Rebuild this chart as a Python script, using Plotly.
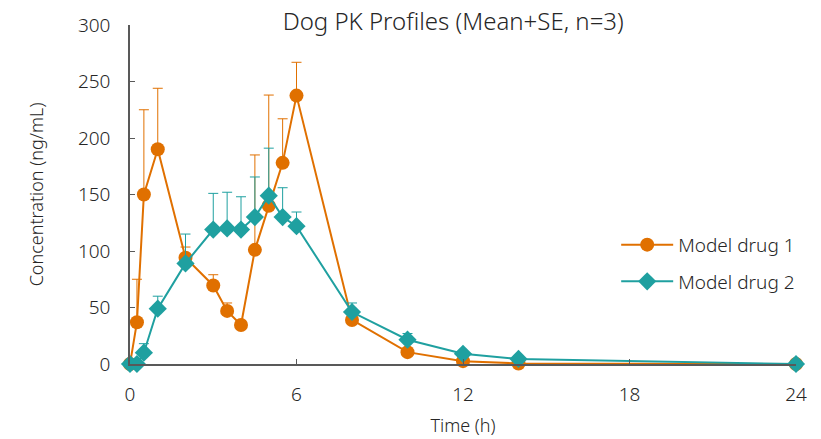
import plotly.graph_objects as go

time_h = [0, 0.25, 0.5, 1, 2, 3, 3.5, 4, 4.5, 5, 5.5, 6, 8, 10, 12, 14, 24]
drug1_mean = [0, 37, 150, 190, 94, 69.5, 47, 34.5, 101, 140, 178, 237.5, 39, 10.5, 2.5, 0.5, 0]
drug1_se = [0, 38, 75, 54, 9.5, 9.5, 7, 3, 84, 98, 39, 29.5, 2, 1, 0.5, 0, 0]
drug2_mean = [0, 0, 10, 49, 89, 119, 120, 119, 130, 149, 130, 122, 46, 21.5, 9, 4.5, 0]
drug2_se = [0, 0, 8, 11, 26, 32, 32, 29, 35.5, 42, 26, 12.5, 8, 5.5, 1, 0.5, 0]

x_ticks = [0, 6, 12, 18, 24]
y_ticks = [0, 50, 100, 150, 200, 250, 300]

ORANGE = "#E07000"
TEAL = "#1FA0A0"
FONT = "Noto Sans"
TXT = "#262626"
AX = "#595959"

fig = go.Figure()
fig.add_trace(go.Scatter(
    x=time_h, y=drug1_mean, name="Model drug 1", mode="lines+markers",
    line=dict(color=ORANGE, width=2),
    marker=dict(symbol="circle", size=14, color=ORANGE),
    error_y=dict(type="data", array=drug1_se, arrayminus=[0]*len(drug1_se),
                 symmetric=False, color=ORANGE, thickness=1, width=5),
    cliponaxis=False, legendgroup="a",
))
fig.add_trace(go.Scatter(
    x=time_h, y=drug2_mean, name="Model drug 2", mode="lines+markers",
    line=dict(color=TEAL, width=2),
    marker=dict(symbol="diamond", size=14, color=TEAL),
    error_y=dict(type="data", array=drug2_se, arrayminus=[0]*len(drug2_se),
                 symmetric=False, color=TEAL, thickness=1, width=5),
    cliponaxis=False, legendgroup="b",
))

fig.update_layout(
    width=821, height=439,
    margin=dict(l=130, r=25, t=25, b=75, autoexpand=False),
    paper_bgcolor="white", plot_bgcolor="white",
    font=dict(family=FONT, size=18, color=TXT, weight=300),
    title=dict(text="Dog PK Profiles (Mean+SE, n=3)", x=0.552, xanchor="center",
               y=0.95, yanchor="middle", font=dict(size=24, color=TXT, weight=300)),
    showlegend=True,
    legend=dict(x=0.73, xanchor="left", y=0.297, yanchor="middle",
                bgcolor="rgba(0,0,0,0)", font=dict(size=19, color=TXT, weight=300),
                tracegroupgap=9, itemwidth=52),
    xaxis=dict(range=[0, 24], tickvals=x_ticks, ticktext=[str(v) for v in x_ticks],
               showgrid=False, zeroline=False, showline=True, linecolor=AX,
               linewidth=1.5, ticks="inside", ticklen=5, tickcolor=AX,
               ticklabelstandoff=12, automargin=False,
               title=dict(text="Time (h)", standoff=14, font=dict(size=18)),
               tickfont=dict(size=19, weight=300)),
    yaxis=dict(range=[0, 300], tickvals=y_ticks, ticktext=[str(v) for v in y_ticks],
               showgrid=False, zeroline=False, showline=True, linecolor=AX,
               linewidth=1.5, ticks="inside", ticklen=5, tickcolor=AX,
               ticklabelstandoff=14, automargin=False,
               title=dict(text="Concentration (ng/mL)", standoff=30, font=dict(size=18)),
               tickfont=dict(size=19, weight=300)),
)

fig.write_html("out.html")
